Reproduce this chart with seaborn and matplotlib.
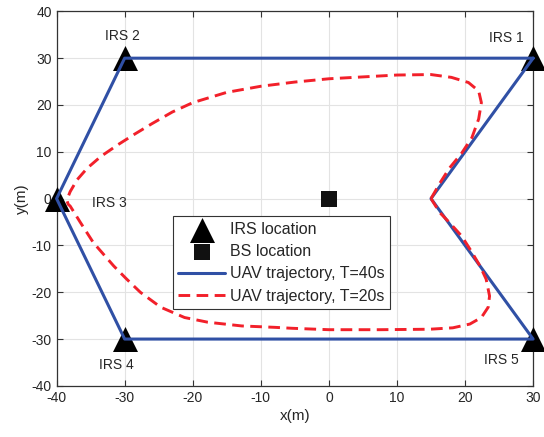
import matplotlib
matplotlib.use("Agg")
import matplotlib.pyplot as plt
import seaborn as sns
import pandas as pd

# ---- data ----
irs_x = [30, -30, -40, -30, 30]
irs_y = [30, 30, 0, -30, -30]
irs_names = ["IRS 1", "IRS 2", "IRS 3", "IRS 4", "IRS 5"]
irs_label_x = [26.0, -30.3, -32.2, -31.2, 25.4]
irs_label_y = [34.3, 34.8, -0.9, -35.5, -34.5]

bs_x = [0]
bs_y = [0]

traj40_x = [30, -30, -40, -30, 30, 15, 30]
traj40_y = [30, 30, 0, -30, -30, 0, 30]

traj20_x = [15, 16.3, 17.7, 19.5, 21.0, 22.0, 22.4, 22.0, 20.5, 18.0, 15.0, 10.0, 5.0, 0.0,
            -5.0, -10.0, -15.0, -20.0, -23.0, -26.0, -28.5, -31.0, -33.5, -35.5, -37.0, -38.0,
            -38.5, -38.3, -38.0, -36.5, -34.6, -31.6, -29.7, -27.7, -24.7, -21.2, -17.8, -12.8,
            -7.9, -5.4, 0.0, 7.5, 14.8, 18.2, 20.7, 22.4, 23.4, 23.6, 23.1, 22.2, 20.9, 19.5,
            17.7, 16.3, 15.0]
traj20_y = [0, 3.3, 6.5, 9.7, 13.0, 17.0, 20.5, 23.0, 24.8, 25.9, 26.5, 26.4, 26.0, 25.6,
            24.9, 24.0, 22.7, 20.5, 18.5, 16.0, 13.8, 11.5, 9.0, 6.5, 4.0, 1.5,
            -0.3, -1.2, -1.6, -5.1, -9.4, -14.4, -17.2, -20.0, -23.2, -25.4, -26.4, -27.2,
            -27.5, -27.7, -28.0, -28.0, -27.9, -27.6, -26.8, -25.4, -23.2, -20.8, -17.2, -14.4,
            -11.2, -8.0, -5.1, -3.0, 0.0]

x_ticks = [-40, -30, -20, -10, 0, 10, 20, 30]
y_ticks = [-40, -30, -20, -10, 0, 10, 20, 30, 40]

BLUE = "#3050A5"
RED = "#F2202A"
TXT = "#262626"

sns.set_style("ticks")
plt.rcParams["font.family"] = ["Liberation Sans", "DejaVu Sans"]
plt.rcParams["axes.unicode_minus"] = False

fig = plt.figure(figsize=(5.44, 4.37), dpi=100)
ax = fig.add_axes([0.104, 0.117, 0.876, 0.857])

df40 = pd.DataFrame({"x": traj40_x, "y": traj40_y})
df20 = pd.DataFrame({"x": traj20_x, "y": traj20_y})
dirs = pd.DataFrame({"x": irs_x, "y": irs_y})
dbs = pd.DataFrame({"x": bs_x, "y": bs_y})

sns.scatterplot(data=dirs, x="x", y="y", marker="^", s=18**2, color="black",
                edgecolor="black", linewidth=0, ax=ax, zorder=3, label="IRS location",
                clip_on=False)
sns.scatterplot(data=dbs, x="x", y="y", marker="s", s=11**2, color="#111111",
                edgecolor="#111111", linewidth=0, ax=ax, zorder=3, label="BS location",
                clip_on=False)
sns.lineplot(data=df40, x="x", y="y", sort=False, estimator=None, color=BLUE,
             linewidth=2.2, ax=ax, zorder=4, label="UAV trajectory, T=40s", clip_on=False)
sns.lineplot(data=df20, x="x", y="y", sort=False, estimator=None, color=RED,
             linewidth=2.1, linestyle=(0, (4, 2.2)), ax=ax, zorder=4,
             label="UAV trajectory, T=20s")

for nx, ny, nm in zip(irs_label_x, irs_label_y, irs_names):
    ax.text(nx, ny, nm, ha="center", va="center", fontsize=10, color=TXT)

ax.set_xlim(-40, 30)
ax.set_ylim(-40, 40)
ax.set_xticks(x_ticks)
ax.set_yticks(y_ticks)
ax.set_xlabel("x(m)", fontsize=11, color=TXT, labelpad=3)
ax.set_ylabel("y(m)", fontsize=11, color=TXT, labelpad=2)
ax.grid(True, color="#E3E3E3", linewidth=0.8, zorder=0)
ax.set_axisbelow(True)
ax.tick_params(direction="in", top=True, right=True, length=4, width=0.8,
               colors="#333333", labelsize=10, labelcolor=TXT)
for sp in ax.spines.values():
    sp.set_visible(True)
    sp.set_color("#333333")
    sp.set_linewidth(0.9)

handles, labels = ax.get_legend_handles_labels()
order = ["IRS location", "BS location", "UAV trajectory, T=40s", "UAV trajectory, T=20s"]
hmap = dict(zip(labels, handles))
leg = ax.legend([hmap[k] for k in order], order, loc="lower left",
                bbox_to_anchor=(0.244, 0.205), fontsize=11.5, frameon=True,
                fancybox=False, edgecolor="#333333", framealpha=1,
                handlelength=2.9, handletextpad=0.3, labelspacing=0.45,
                borderpad=0.35, borderaxespad=0)
leg.get_frame().set_linewidth(0.8)
for t in leg.get_texts():
    t.set_color(TXT)

fig.savefig("out.png", dpi=100)
